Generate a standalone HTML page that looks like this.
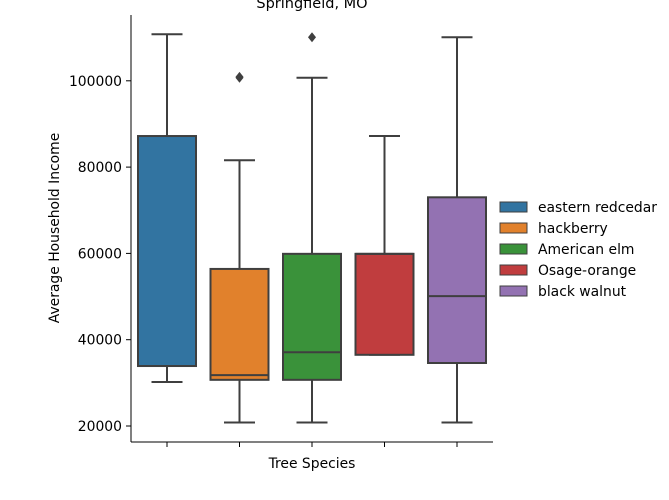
<!DOCTYPE html>
<html><head><meta charset="utf-8"><style>
body{margin:0;background:#fff;}
svg{display:block;font-family:"DejaVu Sans","Liberation Sans",sans-serif;}
</style></head><body>
<svg id="chart" width="669" height="500" viewBox="0 0 669 500" xmlns="http://www.w3.org/2000/svg">
<text x="312" y="8" font-size="14.5" text-anchor="middle" fill="#000">Springfield, MO</text>
<g id="plot"></g>
<line x1="131" y1="15" x2="131" y2="442" stroke="#000" stroke-width="1"/>
<line x1="131" y1="442" x2="493" y2="442" stroke="#000" stroke-width="1"/>
<text x="312" y="468" font-size="13.9" text-anchor="middle">Tree Species</text>
<text transform="translate(59,228) rotate(-90)" font-size="13.9" text-anchor="middle">Average Household Income</text>
<g id="legend"></g>
</svg>
<script>
const categories=["eastern redcedar","hackberry","American elm","Osage-orange","black walnut"];
const colors=["#3274a1","#e1812c","#3a923a","#c03d3e","#9372b2"];
const whiskerLow=[30200,20800,20800,36500,20800];
const q1=[33900,30700,30700,36500,34600];
const medians=[33900,31800,37100,59900,50100];
const q3=[87200,56400,59900,59900,73000];
const whiskerHigh=[110800,81600,100700,87200,110100];
const outliers=[[],[100700,100900],[110100],[],[]];
const yTicks=[20000,40000,60000,80000,100000];
const NS="http://www.w3.org/2000/svg";
function y(v){return 426-(v-20000)/20000*86.3;}
function x(i){return 167+i*72.5;}
const plot=document.getElementById('plot');
const svg=document.getElementById('chart');
function mk(tag,attrs,parent){const e=document.createElementNS(NS,tag);for(const k in attrs)e.setAttribute(k,attrs[k]);(parent||plot).appendChild(e);return e;}
const gc="#3f3f3f";
yTicks.forEach(t=>{
  const l=mk('line',{x1:126,x2:131,y1:y(t),y2:y(t),stroke:'#000'},svg);
  
  
  const tx=mk('text',{x:122,y:y(t)+5,'font-size':13.9,'text-anchor':'end'},svg);
  tx.textContent=t;
  
  
});
categories.forEach((c,i)=>{
  const cx=x(i),hw=29;
  const tk=mk('line',{x1:cx,x2:cx,y1:442,y2:447,stroke:'#000'},svg);
  
  
  const g=mk('g',{});
  
  
  mk('line',{x1:cx,x2:cx,y1:y(whiskerHigh[i]),y2:y(q3[i]),stroke:gc,'stroke-width':2},g);
  mk('line',{x1:cx,x2:cx,y1:y(q1[i]),y2:y(whiskerLow[i]),stroke:gc,'stroke-width':2},g);
  mk('line',{x1:cx-15.5,x2:cx+15.5,y1:y(whiskerHigh[i]),y2:y(whiskerHigh[i]),stroke:gc,'stroke-width':2},g);
  mk('line',{x1:cx-15.5,x2:cx+15.5,y1:y(whiskerLow[i]),y2:y(whiskerLow[i]),stroke:gc,'stroke-width':2},g);
  mk('rect',{x:cx-hw,y:y(q3[i]),width:hw*2,height:y(q1[i])-y(q3[i]),fill:colors[i],stroke:gc,'stroke-width':2},g);
  mk('line',{x1:cx-hw,x2:cx+hw,y1:y(medians[i]),y2:y(medians[i]),stroke:gc,'stroke-width':2},g);
  outliers[i].forEach(o=>{
    const yy=y(o);
    const p=mk('path',{d:`M${cx},${yy-5} L${cx+4},${yy} L${cx},${yy+5} L${cx-4},${yy} Z`,fill:gc},g);
    
    
  });
});
const lg=document.getElementById('legend');
categories.forEach((c,i)=>{
  const yy=207+i*21;
  const r=mk('rect',{x:500,y:yy-5,width:27,height:10,fill:colors[i],stroke:gc,'stroke-width':1},lg);
  
  
  const t=mk('text',{x:538,y:yy+5,'font-size':13.9},lg);
  t.textContent=c;
  
  
});
</script>
</body></html>
